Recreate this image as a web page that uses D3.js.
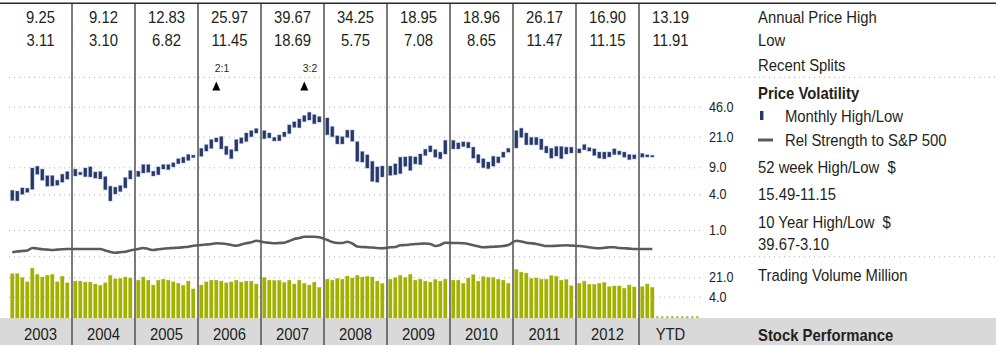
<!DOCTYPE html>
<html>
<head>
<meta charset="utf-8">
<title>stock performance</title>
<script src="https://d3js.org/d3.v7.min.js"></script>
<style>
  body { margin: 0; background: #fff; }
  svg { display: block; font-family: "Liberation Sans", Arial, sans-serif; }
  .grid line { stroke: #b0b0b0; stroke-dasharray: 1,4; }
  .grid .domain { display: none; }
  .grid text { font-size: 14px; fill: #222; }
</style>
</head>
<body>
<div id="chart"></div>
<script>
var years = ["2003","2004","2005","2006","2007","2008","2009","2010","2011","2012","YTD"];
var annualHigh = ["9.25","9.12","12.83","25.97","39.67","34.25","18.95","18.96","26.17","16.90","13.19"];
var annualLow  = ["3.11","3.10","6.82","11.45","18.69","5.75","7.08","8.65","11.47","11.15","11.91"];

var priceTicks = [1, 4, 9, 21, 46];
var volumeTicks = [4, 21];

// monthly high / low, one row per year
var monthlyHigh = [
  [4.5, 4.4, 4.85, 4.8, 8.8, 9.25, 8.5, 7.0, 7.0, 6.1, 7.3, 7.9],
  [8.5, 7.75, 8.8, 9.12, 7.8, 7.9, 6.8, 5.1, 4.95, 5.2, 6.6, 8.15],
  [8.0, 9.7, 9.7, 8.0, 9.1, 9.7, 9.7, 10.2, 11.4, 11.9, 12.83, 12.6],
  [15.2, 16.8, 19.4, 20.3, 21.1, 16.1, 14.7, 19.4, 20.4, 23.1, 24.6, 25.97],
  [24.6, 23.1, 20.6, 21.9, 23.7, 28.6, 31.0, 33.3, 36.5, 39.67, 37.3, 35.5],
  [34.25, 27.3, 21.5, 21.0, 24.9, 24.9, 18.3, 13.9, 12.7, 10.6, 9.1, 9.3],
  [9.3, 9.9, 11.9, 12.0, 12.2, 12.0, 13.0, 14.8, 16.3, 14.7, 13.7, 18.95],
  [18.96, 17.7, 18.2, 18.0, 15.7, 12.8, 11.4, 10.4, 12.2, 12.0, 13.7, 15.2],
  [24.6, 26.17, 23.1, 20.6, 20.6, 19.7, 16.1, 15.2, 16.0, 16.0, 15.7, 15.7],
  [15.0, 16.9, 15.49, 15.0, 13.7, 13.7, 13.7, 15.0, 14.1, 13.7, 12.8, 12.7],
  [13.19, 12.7, 12.5]
];
var monthlyLow = [
  [3.15, 3.11, 4.0, 4.25, 4.65, 7.3, 6.1, 5.1, 5.15, 5.25, 5.75, 6.3],
  [6.95, 7.2, 6.8, 6.75, 6.5, 6.35, 4.6, 3.10, 4.05, 4.35, 4.85, 6.35],
  [6.82, 7.6, 7.75, 6.95, 7.2, 8.55, 8.4, 9.1, 9.95, 10.2, 10.9, 11.8],
  [12.2, 14.1, 15.2, 18.2, 15.0, 12.8, 11.45, 14.1, 17.5, 18.4, 21.0, 23.1],
  [19.9, 20.3, 18.69, 18.8, 21.0, 22.8, 26.8, 26.6, 31.2, 32.5, 29.5, 30.8],
  [22.1, 21.0, 17.2, 17.2, 20.6, 18.5, 10.6, 10.4, 8.8, 5.9, 5.75, 6.75],
  [7.08, 7.2, 7.45, 9.25, 8.2, 9.9, 9.7, 12.5, 13.8, 11.9, 11.4, 13.0],
  [15.0, 15.0, 16.0, 15.4, 11.6, 10.2, 8.9, 8.65, 9.3, 10.2, 11.9, 13.7],
  [15.4, 20.6, 16.8, 16.8, 16.8, 14.7, 13.4, 11.6, 12.3, 11.47, 13.0, 13.4],
  [13.4, 14.6, 14.1, 12.5, 11.6, 11.4, 12.0, 12.8, 12.8, 11.9, 11.15, 11.4],
  [11.91, 12.0, 12.2]
];

// relative strength to S&P 500 (index)
var relStrength = [
  [9.7, 10.5, 11, 11.5, 14, 13.5, 12.7, 12.4, 12, 12.4, 12.8, 13],
  [13, 13, 13, 13, 13, 13, 11.5, 10, 9.3, 9.8, 10.3, 11.6],
  [13, 14, 13, 12, 12.7, 13.3, 13.7, 14, 14.3, 14.8, 15.3, 16.2],
  [17, 17.5, 18, 18.7, 18.5, 18, 17, 16.3, 17.5, 18.7, 19.7, 21.3],
  [19.7, 19.2, 18.7, 19, 19.3, 21, 23, 24, 25.3, 25.3, 25.3, 24.7],
  [22, 20, 19, 19, 20.3, 18.5, 15.5, 15, 14.8, 14.5, 14, 13.8],
  [14.7, 15, 16.7, 17, 17.5, 18, 18.3, 18.5, 18, 16, 17, 19.3],
  [19, 19, 18.7, 18, 16.7, 15.7, 14.7, 15, 15.3, 15.5, 16, 17],
  [21.3, 20.5, 19.3, 18.7, 18, 17, 16, 16, 16.2, 16.5, 16.7, 16.4],
  [16, 15.5, 14.7, 14, 13.7, 14.2, 14.7, 14.7, 14, 13.7, 13.4, 13],
  [13, 13, 13]
];

// trading volume, millions (0 = month not yet traded)
var volume = [
  [28.5, 28.5, 20.5, 14.2, 45.4, 26.9, 21.5, 24.8, 26.9, 14.2, 22.8, 13.1],
  [15.1, 15.1, 13.9, 13.9, 11.8, 10.6, 13.1, 24.8, 18.3, 18.9, 21.5, 19.8],
  [16.4, 21.5, 16.4, 10.8, 16.4, 17.8, 16.4, 14.2, 12.5, 10.6, 15.1, 7.8],
  [10.8, 14.2, 16.4, 16.4, 15.1, 13.1, 14.2, 16.4, 13.9, 15.1, 15.1, 11.8],
  [20.5, 16.4, 16.0, 16.0, 13.5, 16.4, 11.8, 16.4, 12.5, 10.8, 13.9, 8.9],
  [17.8, 16.4, 18.9, 17.8, 23.3, 19.8, 24.8, 21.5, 22.8, 21.5, 15.1, 12.5],
  [17.8, 20.5, 24.8, 20.5, 26.9, 16.4, 17.8, 15.1, 13.9, 17.4, 15.1, 17.8],
  [16.4, 16.4, 12.5, 19.8, 26.3, 15.1, 22.2, 21.0, 20.5, 17.8, 16.4, 12.5],
  [40.8, 32.6, 30.0, 18.9, 19.8, 17.8, 17.8, 24.2, 22.8, 16.4, 17.4, 10.2],
  [12.5, 15.1, 11.5, 11.5, 12.5, 13.5, 9.4, 10.0, 10.0, 8.2, 10.8, 9.2],
  [9.4, 11.8, 8.9, 0, 0, 0, 0, 0, 0, 0, 0, 0]
];

var splits = [
  {year: "2006", month: 3, label: "2:1"},
  {year: "2007", month: 8, label: "3:2"}
];

var sideLabels = [
  {text: "Annual Price High", y: 22.7},
  {text: "Low", y: 46},
  {text: "Recent Splits", y: 71},
  {text: "Price Volatility", y: 99, bold: true},
  {text: "52 week High/Low\u00a0\u00a0$", y: 173},
  {text: "15.49-11.15", y: 200},
  {text: "10 Year High/Low\u00a0\u00a0$", y: 228},
  {text: "39.67-3.10", y: 250},
  {text: "Trading Volume Million", y: 281},
  {text: "Stock Performance", y: 341, bold: true}
];

var width = 996, height = 345;
var plotLeft = 9, plotRight = 700;
var navy = "#27396b", olive = "#a2b000", ink = "#231f20";
var sx = 0.9; // narrow the type a bit

var svg = d3.select("#chart").append("svg")
    .attr("width", width)
    .attr("height", height);

var xYear = d3.scaleBand()
    .domain(years)
    .range([plotLeft, plotLeft + 63 * years.length]);
var xMonth = d3.scaleLinear().domain([0, 11]).range([3.3, 58.3]);
function mx(yi, m) { return xYear(years[yi]) + xMonth(m); }

var yPrice = d3.scaleLog().domain(priceTicks).range([230, 194.3, 167.3, 136.7, 106.7]);
var yVol = d3.scaleLog().domain(volumeTicks).range([296.7, 277.3]);
var volBase = 318;
var yRel = d3.scaleLinear().domain([0, 40]).range([262, 222]);

function txt(g, x, y, s, anchor, size, bold) {
  return g.append("text")
    .attr("transform", "translate(" + x + "," + y + ") scale(" + sx + ",1)")
    .attr("text-anchor", anchor || "start")
    .attr("font-size", (size || 16.5) + "px")
    .attr("font-weight", bold ? "bold" : "normal")
    .attr("fill", ink)
    .text(s);
}

// bottom band
svg.append("rect")
    .attr("x", 0).attr("y", volBase)
    .attr("width", width).attr("height", height - volBase)
    .attr("fill", "#d9d9d9");

// full width dotted separators
svg.selectAll(".sep")
    .data([77.3, 256.7])
    .enter().append("line")
    .attr("x1", plotLeft).attr("x2", width)
    .attr("y1", function(d) { return d; }).attr("y2", function(d) { return d; })
    .attr("stroke", "#b0b0b0").attr("stroke-dasharray", "1,4");

// price grid + labels
var gp = svg.append("g")
    .attr("class", "grid")
    .attr("transform", "translate(" + plotRight + ",0)")
    .call(d3.axisRight(yPrice).tickValues(priceTicks)
      .tickFormat(d3.format(".1f")).tickSize(-(plotRight - plotLeft)).tickPadding(10));
gp.selectAll("text").attr("transform", "scale(" + sx + ",1)");

var gv = svg.append("g")
    .attr("class", "grid")
    .attr("transform", "translate(" + plotRight + ",0)")
    .call(d3.axisRight(yVol).tickValues(volumeTicks)
      .tickFormat(d3.format(".1f")).tickSize(-(plotRight - plotLeft)).tickPadding(10));
gv.selectAll("text").attr("transform", "scale(" + sx + ",1)");

// year separators + top rule
svg.selectAll(".vsep")
    .data(years.slice(1))
    .enter().append("line")
    .attr("x1", function(d) { return xYear(d); })
    .attr("x2", function(d) { return xYear(d); })
    .attr("y1", 3).attr("y2", height)
    .attr("stroke", "#5a5a5a").attr("stroke-width", 1.6);

svg.append("line")
    .attr("x1", 0).attr("x2", width).attr("y1", 3.3).attr("y2", 3.3)
    .attr("stroke", "#2a2a2a").attr("stroke-width", 1.6);

// annual high / low rows
years.forEach(function(y, i) {
  var cx = xYear(y) + xYear.bandwidth() / 2;
  txt(svg, cx, 22.7, annualHigh[i], "middle");
  txt(svg, cx, 46, annualLow[i], "middle");
  txt(svg, cx, 340, y, "middle");
});

// splits
splits.forEach(function(s) {
  var cx = mx(years.indexOf(s.year), s.month);
  svg.append("path")
    .attr("d", "M" + (cx - 4) + ",90.5 L" + cx + ",81.5 L" + (cx + 4) + ",90.5 Z")
    .attr("fill", "#000");
  txt(svg, cx - 1.5, 71.5, s.label, "start", 11.5);
});

// monthly high/low bars
var bars = [];
monthlyHigh.forEach(function(row, yi) {
  row.forEach(function(h, m) {
    bars.push({x: mx(yi, m), hi: h, lo: monthlyLow[yi][m]});
  });
});
svg.append("g").selectAll("rect")
    .data(bars)
    .enter().append("rect")
    .attr("x", function(d) { return d.x - 1.6; })
    .attr("width", 3.2)
    .attr("y", function(d) { return yPrice(d.hi); })
    .attr("height", function(d) { return Math.max(1.5, yPrice(d.lo) - yPrice(d.hi)); })
    .attr("fill", navy)
    .attr("stroke", "#c9d1e4").attr("stroke-width", 1.4)
    .style("paint-order", "stroke");

// relative strength line
var rel = [];
relStrength.forEach(function(row, yi) {
  row.forEach(function(v, m) { rel.push({x: mx(yi, m), v: v}); });
});
svg.append("path")
    .datum(rel)
    .attr("fill", "none")
    .attr("stroke", "#5b5b5b")
    .attr("stroke-width", 2.6)
    .attr("stroke-linejoin", "round")
    .attr("d", d3.line()
      .x(function(d) { return d.x; })
      .y(function(d) { return yRel(d.v); })
      .curve(d3.curveMonotoneX));

// volume bars
var vols = [];
volume.forEach(function(row, yi) {
  row.forEach(function(v, m) { vols.push({x: mx(yi, m), v: v}); });
});
svg.append("g").selectAll("rect")
    .data(vols)
    .enter().append("rect")
    .attr("x", function(d) { return d.x - (d.v > 0 ? 1.7 : 0.8); })
    .attr("width", function(d) { return d.v > 0 ? 3.4 : 1.6; })
    .attr("y", function(d) { return d.v > 0 ? yVol(d.v) : volBase - 1.5; })
    .attr("height", function(d) { return d.v > 0 ? volBase - yVol(d.v) : 1.5; })
    .attr("fill", olive)
    .attr("stroke", "#d6dc92").attr("stroke-width", 0.8)
    .style("paint-order", "stroke");

// right hand labels and legend
var side = svg.append("g");
sideLabels.forEach(function(d) {
  txt(side, 758, d.y, d.text, "start", 16.5, d.bold);
});
side.append("rect")
    .attr("x", 760).attr("y", 111).attr("width", 3.4).attr("height", 9)
    .attr("fill", navy);
txt(side, 785, 122, "Monthly High/Low");
side.append("line")
    .attr("x1", 758).attr("x2", 773).attr("y1", 140).attr("y2", 140)
    .attr("stroke", "#5b5b5b").attr("stroke-width", 3);
txt(side, 785, 146, "Rel Strength to S&P 500");
</script>
</body>
</html>
